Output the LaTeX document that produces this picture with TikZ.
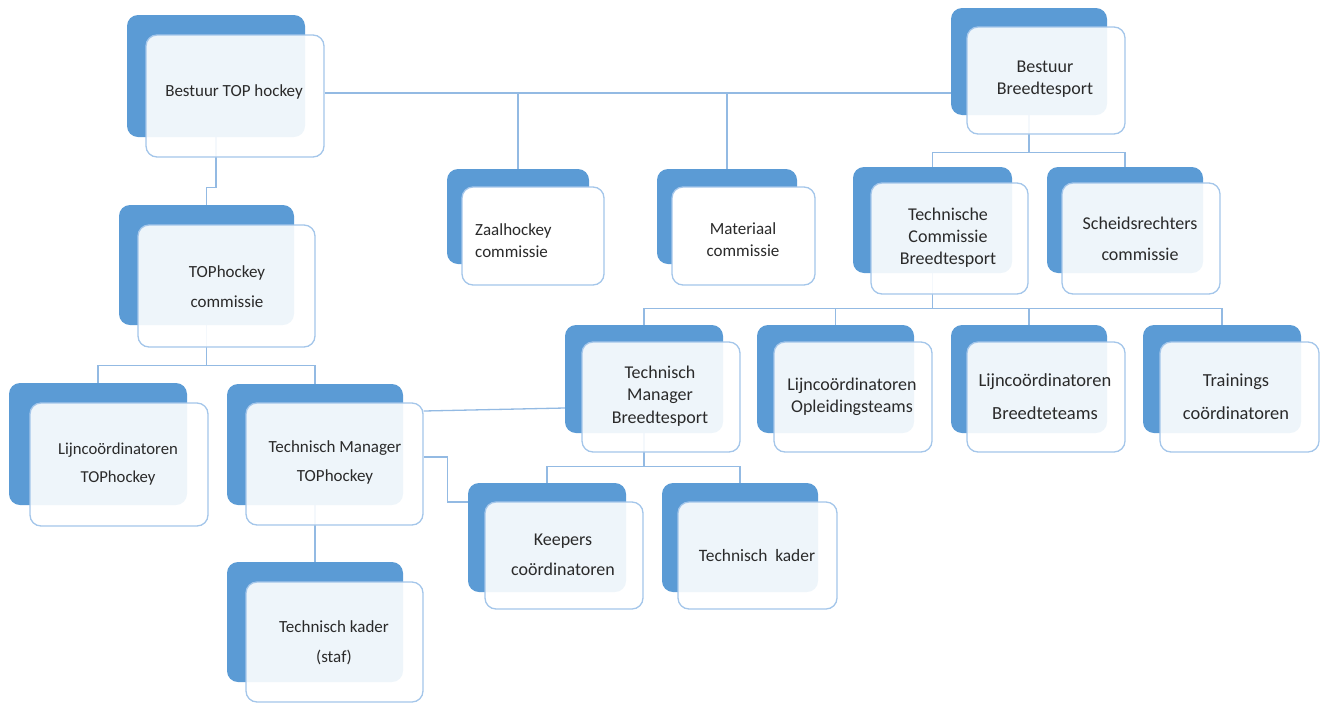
\documentclass[tikz,border=0pt]{standalone}
\usepackage{fontspec}
\setmainfont{Carlito}
\usetikzlibrary{fit,backgrounds}
\definecolor{bbl}{HTML}{5B9BD5}
\definecolor{fbd}{HTML}{A4C6EA}
\definecolor{cn}{HTML}{93BAE3}
\definecolor{txt}{HTML}{2A2A2A}
\begin{document}
\begin{tikzpicture}[x=1pt,y=-1pt,
  backbox/.style={fill=bbl, rounded corners=11pt, inner sep=0pt, draw=none},
  frontbox/.style={fill=white, fill opacity=0.9, draw=fbd, line width=1.3pt, rounded corners=11pt, inner sep=0pt},
  solidfront/.style={frontbox, fill opacity=1},
  lbl/.style 2 args={text=txt, align=center, inner sep=0pt, font=\fontsize{#1}{#2}\selectfont},
  conn/.style={draw=cn, line width=1.3pt}]
\useasboundingbox (0,0) rectangle (1321,702);

% back boxes
\node[backbox, fit={(127,15) (305,137)}] (b-top) {};
\node[backbox, fit={(951,8) (1107,115)}] (b-breed) {};
\node[backbox, fit={(447,169) (589,264)}] (b-zaal) {};
\node[backbox, fit={(657,169) (797,264)}] (b-mat) {};
\node[backbox, fit={(853,167) (1012,273)}] (b-tc) {};
\node[backbox, fit={(1047,167) (1203,273)}] (b-sch) {};
\node[backbox, fit={(119,205) (294,325)}] (b-thc) {};
\node[backbox, fit={(9,383) (187,505)}] (b-ltop) {};
\node[backbox, fit={(227,384) (403,505)}] (b-tmt) {};
\node[backbox, fit={(227,562) (403,682)}] (b-staf) {};
\node[backbox, fit={(565,325) (723,433)}] (b-tmb) {};
\node[backbox, fit={(757,325) (914,433)}] (b-lopl) {};
\node[backbox, fit={(951,325) (1107,433)}] (b-lbr) {};
\node[backbox, fit={(1143,325) (1301,433)}] (b-trn) {};
\node[backbox, fit={(468,483) (626,592)}] (b-keep) {};
\node[backbox, fit={(662,483) (818,592)}] (b-tk) {};

% front boxes
\node[frontbox, fit={(146,35) (324,157)}] (f-top) {};
\node[frontbox, fit={(967,27) (1125,134)}] (f-breed) {};
\node[solidfront, fit={(462,187) (604,285)}] (f-zaal) {};
\node[solidfront, fit={(672,187) (815,285)}] (f-mat) {};
\node[frontbox, fit={(871,183) (1028,294)}] (f-tc) {};
\node[frontbox, fit={(1062,183) (1220,294)}] (f-sch) {};
\node[frontbox, fit={(138,225) (315,347)}] (f-thc) {};
\node[frontbox, fit={(30,403) (208,526)}] (f-ltop) {};
\node[frontbox, fit={(246,403) (423,525)}] (f-tmt) {};
\node[frontbox, fit={(246,582) (423,702)}] (f-staf) {};
\node[frontbox, fit={(582,342) (740,452)}] (f-tmb) {};
\node[frontbox, fit={(774,342) (932,452)}] (f-lopl) {};
\node[frontbox, fit={(967,342) (1125,452)}] (f-lbr) {};
\node[frontbox, fit={(1160,342) (1319,452)}] (f-trn) {};
\node[frontbox, fit={(485,502) (643,609)}] (f-keep) {};
\node[frontbox, fit={(678,502) (837,609)}] (f-tk) {};

% labels
\node[lbl={17}{22}] (t-top) at (234,92) {Bestuur TOP hockey};
\node[lbl={18}{22}] (t-breed) at (1045,79) {Bestuur\\Breedtesport};
\node[lbl={17}{22}, align=left, anchor=west] (t-zaal) at (475,241) {Zaalhockey\\commissie};
\node[lbl={17}{22}] (t-mat) at (743,240) {Materiaal\\commissie};
\node[lbl={18}{22}] (t-tc) at (948,238) {Technische\\Commissie\\Breedtesport};
\node[lbl={18}{31}] (t-sch) at (1140,239) {Scheidsrechters\\commissie};
\node[lbl={17}{30}] (t-thc) at (227,287) {TOPhockey\\commissie};
\node[lbl={16.7}{28}] (t-ltop) at (118,464) {Lijncoördinatoren\\TOPhockey};
\node[lbl={17}{29}] (t-tmt) at (335,462) {Technisch Manager\\TOPhockey};
\node[lbl={17}{30}] (t-staf) at (334,643) {Technisch kader\\(staf)};
\node[lbl={18}{22.5}] (t-tmb) at (660,396) {Technisch\\Manager\\Breedtesport};
\node[lbl={18}{22}] (t-lopl) at (852,397) {Lijncoördinatoren\\Opleidingsteams};
\node[lbl={18.5}{33}] (t-lbr) at (1045,397) {Lijncoördinatoren\\Breedteteams};
\node[lbl={18.4}{33}] (t-trn) at (1236,397) {Trainings\\coördinatoren};
\node[lbl={18}{30}] (t-keep) at (563,555) {Keepers\\coördinatoren};
\node[lbl={17.4}{22}] (t-tk) at (757,556) {Technisch\ \ kader};

% connectors
\begin{scope}[on background layer]
\coordinate (h1) at ([yshift=3pt]f-top.east);
\draw[conn] (h1) -- (h1 -| b-breed.west);
\draw[conn] (b-zaal.north) -- (b-zaal.north |- h1);
\draw[conn] (b-mat.north) -- (b-mat.north |- h1);
\draw[conn] (b-top.south) -- ++(0,50) -| (b-thc.north);
\coordinate (j2) at ([yshift=-37pt]b-breed.south);
\draw[conn] (b-breed.south) -- (j2) -| (b-tc.north);
\draw[conn] (j2) -| (b-sch.north);
\coordinate (j5) at ([yshift=-35pt]b-tc.south);
\draw[conn] (b-tc.south) -- (j5) -| (b-tmb.north);
\draw[conn] (j5) -| (b-lopl.north);
\draw[conn] (j5) -| (b-lbr.north);
\draw[conn] (j5) -| (b-trn.north);
\coordinate (j11) at ([yshift=-33pt]b-tmb.south);
\draw[conn] (b-tmb.south) -- (j11) -| (b-keep.north);
\draw[conn] (j11) -| (b-tk.north);
\coordinate (j7) at ([yshift=-40pt]b-thc.south);
\draw[conn] (b-thc.south) -- (j7) -| (b-ltop.north);
\draw[conn] (j7) -| (b-tmt.north);
\draw[conn] (b-tmt.south) -- (b-staf.north);
\draw[conn] ([yshift=53pt]f-tmt.east) -- ([yshift=-29pt]b-tmb.west);
\draw[conn] ([yshift=7pt]f-tmt.east) -- ++(24,0) |- ([yshift=35.5pt]b-keep.west);
\end{scope}
\end{tikzpicture}
\end{document}
